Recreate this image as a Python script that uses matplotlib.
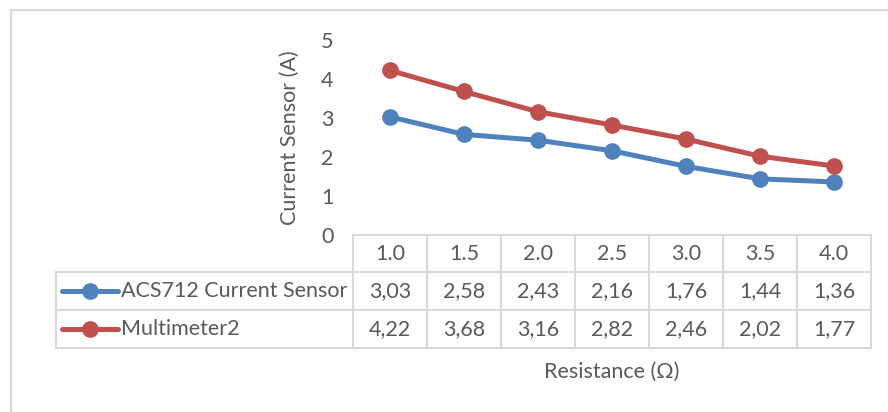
import matplotlib.pyplot as plt
from matplotlib.lines import Line2D
import matplotlib.transforms as mtransforms

plt.rcParams["font.family"] = ["Lato", "DejaVu Sans"]

resistance = ["1.0", "1.5", "2.0", "2.5", "3.0", "3.5", "4.0"]
acs712 = [3.03, 2.58, 2.43, 2.16, 1.76, 1.44, 1.36]
multimeter = [4.22, 3.68, 3.16, 2.82, 2.46, 2.02, 1.77]
series_names = ["ACS712 Current Sensor", "Multimeter2"]

blue = "#4F81BD"
red = "#C0504D"
grid_col = "#D9D9D9"
txt_col = "#595959"
fs = 15.5

W, H = 888, 412
fig = plt.figure(figsize=(W / 100, H / 100), dpi=100)

# plot area in pixels
x0, x1, ytop, ybot = 353, 871, 40, 235
ax = fig.add_axes([x0 / W, 1 - ybot / H, (x1 - x0) / W, (ybot - ytop) / H])

xs = range(len(resistance))
lw, ms = 3.6, 11
ax.plot(xs, acs712, color=blue, lw=lw, marker="o", ms=ms, solid_capstyle="round")
ax.plot(xs, multimeter, color=red, lw=lw, marker="o", ms=ms, solid_capstyle="round")

ax.set_xlim(-0.5, len(resistance) - 0.5)
ax.set_ylim(0, 5)
ax.set_yticks([0, 1, 2, 3, 4, 5])
ax.set_xticks([])
ax.tick_params(axis="y", length=0, pad=14, labelsize=fs, labelcolor=txt_col)
for s in ax.spines.values():
    s.set_visible(False)

ax.text(-0.1216, 0.50, "Current Sensor (A)", transform=ax.transAxes, rotation=90,
        ha="center", va="center", fontsize=fs, color=txt_col)

# data table below the plot area (x in data units, y in axes fraction)
trans = mtransforms.blended_transform_factory(ax.transData, ax.transAxes)
ph = ybot - ytop
rows_px = [235, 272, 310, 348]
rows = [-(r - ybot) / ph for r in rows_px]
leg_left = (56 - x0) / (x1 - x0)
n = len(resistance)
kw = dict(color=grid_col, lw=1.5, clip_on=False)

# horizontal lines
ax.add_line(Line2D([-0.5, n - 0.5], [rows[0]] * 2, transform=trans, **kw))
for r in rows[1:]:
    ax.add_line(Line2D([leg_left, 1], [r, r], transform=ax.transAxes, **kw))
# vertical lines
for k in range(n + 1):
    ax.add_line(Line2D([k - 0.5] * 2, [rows[0], rows[3]], transform=trans, **kw))
ax.add_line(Line2D([leg_left] * 2, [rows[1], rows[3]], transform=ax.transAxes, **kw))

hdr_y = (rows[0] + rows[1]) / 2
for i, lab in enumerate(resistance):
    ax.text(i, hdr_y, lab, transform=trans, ha="center", va="center",
            fontsize=fs, color=txt_col)

for j, (vals, col, name) in enumerate(zip([acs712, multimeter], [blue, red], series_names)):
    yc = (rows[j + 1] + rows[j + 2]) / 2
    for i, v in enumerate(vals):
        ax.text(i, yc, f"{v:.2f}".replace(".", ","), transform=trans, ha="center",
                va="center", fontsize=fs, color=txt_col)
    lx0 = (62 - x0) / (x1 - x0)
    lx1 = (118 - x0) / (x1 - x0)
    ax.add_line(Line2D([lx0, lx1], [yc, yc], transform=ax.transAxes, color=col,
                       lw=lw, solid_capstyle="round", clip_on=False))
    ax.add_line(Line2D([(lx0 + lx1) / 2], [yc], transform=ax.transAxes, color=col,
                       marker="o", ms=ms, clip_on=False))
    ax.text((121 - x0) / (x1 - x0), yc, name, transform=ax.transAxes, ha="left",
            va="center", fontsize=fs, color=txt_col)

ax.text(0.5, -(372 - ybot) / ph, "Resistance (\u03a9)", transform=ax.transAxes,
        ha="center", va="center", fontsize=fs, color=txt_col)

# chart area border
fig.add_artist(Line2D([11 / W, 1], [1 - 10 / H] * 2, color=grid_col, lw=1.5))
fig.add_artist(Line2D([11 / W] * 2, [0, 1 - 10 / H], color=grid_col, lw=1.5))

fig.savefig("out.png", dpi=100)
